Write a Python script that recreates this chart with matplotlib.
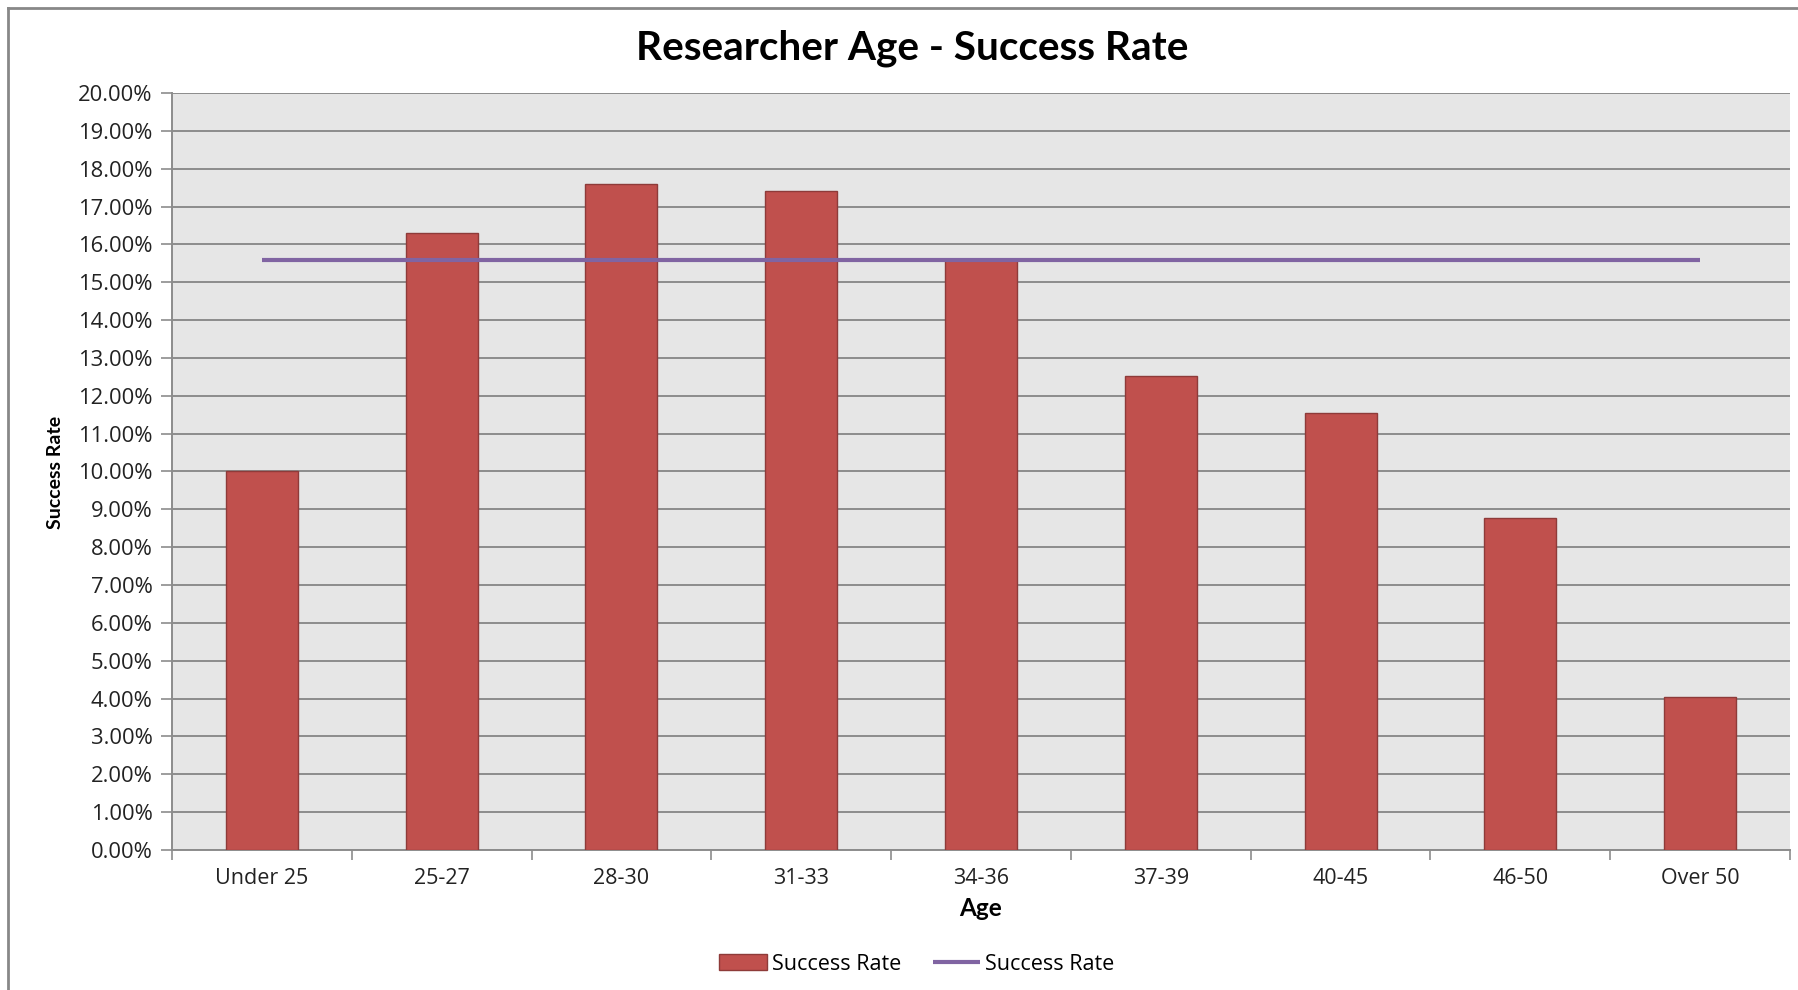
import matplotlib
matplotlib.use("Agg")
import matplotlib.pyplot as plt
from matplotlib.ticker import FuncFormatter, FixedLocator
from matplotlib.lines import Line2D

plt.rcParams['font.family'] = ['Open Sans', 'DejaVu Sans']

# Data
age_groups = ["Under 25", "25-27", "28-30", "31-33", "34-36", "37-39", "40-45", "46-50", "Over 50"]
success_rate = [10.00, 16.30, 17.60, 17.42, 15.60, 12.53, 11.54, 8.78, 4.03]
average_rate = [15.60] * len(age_groups)
y_ticks = [i * 1.0 for i in range(21)]

W, H = 1799, 990
fig = plt.figure(figsize=(W / 100, H / 100), dpi=100)
fig.patch.set_facecolor("white")

# plot area in pixel coordinates
left, right, top, bottom = 172, 1790, 93, 850
ax = fig.add_axes([left / W, 1 - bottom / H, (right - left) / W, (bottom - top) / H])
ax.set_facecolor("#E6E6E6")

x = list(range(len(age_groups)))
ax.bar(x, success_rate, width=0.4, color="#C0504D", edgecolor="#8E3B39",
       linewidth=1.0, zorder=3, label="Success Rate")
ax.plot(x, average_rate, color="#8064A2", linewidth=3, zorder=4,
        solid_capstyle="butt", label="Success Rate")

ax.set_xlim(-0.5, len(age_groups) - 0.5)
ax.set_ylim(0, 20)

ax.set_yticks(y_ticks)
ax.yaxis.set_major_formatter(FuncFormatter(lambda v, p: f"{v:.2f}%"))
ax.grid(axis="y", color="#8C8C8C", linewidth=1.4, zorder=1)
ax.set_axisbelow(True)

ax.set_xticks(x)
ax.set_xticklabels(age_groups)
ax.xaxis.set_minor_locator(FixedLocator([i - 0.5 for i in range(len(age_groups) + 1)]))
ax.tick_params(axis="x", which="major", length=0, pad=13, labelsize=15.5, colors="#222222")
ax.tick_params(axis="x", which="minor", length=7, width=1.2, color="#8C8C8C")
ax.tick_params(axis="y", which="major", length=8, width=1.2, color="#8C8C8C",
               labelsize=15.8, labelcolor="#222222", pad=6)

for side in ("top", "right"):
    ax.spines[side].set_visible(False)
for side in ("left", "bottom"):
    ax.spines[side].set_color("#8C8C8C")
    ax.spines[side].set_linewidth(1.4)

ax.set_xlabel("Age", fontsize=17.5, fontweight="bold", labelpad=6,
              family=["Lato", "DejaVu Sans"])
fig.text(56 / W, 1 - 472 / H, "Success Rate", rotation=90, ha="center", va="center",
         fontsize=14, fontweight="bold", family=["Lato", "DejaVu Sans"])

fig.text(912 / W, 1 - 48 / H, "Researcher Age - Success Rate", ha="center", va="center",
         fontsize=29.2, fontweight="bold", color="black", family=["Lato", "DejaVu Sans"])

handles, labels = ax.get_legend_handles_labels()
fig.legend(handles[::-1], labels[::-1], loc="center", bbox_to_anchor=(917 / W, 1 - 964 / H),
           ncol=2, frameon=False, fontsize=15.5, handlelength=2.2, handletextpad=0.25,
           columnspacing=1.45)

# outer chart border (left and top edges)
fig.add_artist(Line2D([8 / W, 8 / W], [0, 1 - 8 / H], transform=fig.transFigure,
                      color="#888888", linewidth=2))
fig.add_artist(Line2D([8 / W, 1], [1 - 8 / H, 1 - 8 / H], transform=fig.transFigure,
                      color="#888888", linewidth=2))

fig.savefig("out.png", dpi=100)
